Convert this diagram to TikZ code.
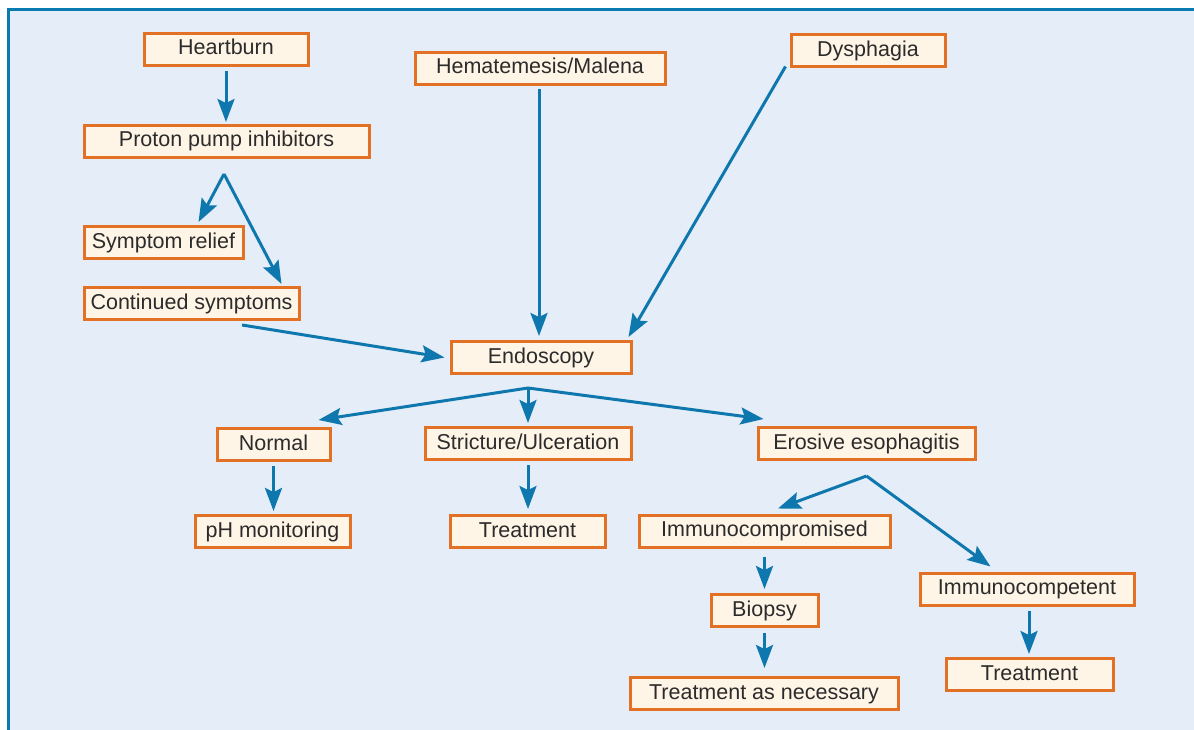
\documentclass[tikz,border=0pt]{standalone}
\usepackage{fontspec}
\setmainfont{Liberation Sans}
\usetikzlibrary{arrows.meta,calc}
\definecolor{panelbg}{HTML}{E5EEF8}
\definecolor{framebl}{HTML}{0A7BB0}
\definecolor{arrbl}{HTML}{0E78AE}
\definecolor{boxor}{HTML}{E27025}
\definecolor{boxfill}{HTML}{FFF5E7}
\definecolor{txt}{HTML}{2B2B2B}
\tikzset{
  box/.style={draw=boxor, line width=3pt, fill=boxfill, inner sep=0pt,
    minimum height=32pt, text=txt, text height=15.5pt, text depth=4.5pt,
    font=\fontsize{21.5}{25}\selectfont},
  arr/.style={draw=arrbl, line width=3pt,
    -{Stealth[length=23pt,width=17pt,inset=4pt]}},
}
\begin{document}
\begin{tikzpicture}[x=1pt,y=-1pt]
\useasboundingbox (0,0) rectangle (1194,730);
\fill[white] (0,0) rectangle (1194,730);
\fill[panelbg] (8,10) rectangle (1194,730);
\draw[framebl, line width=3pt] (8,730) -- (8,10) -- (1194,10);

\node[box, minimum width=164pt] (hb)  at (226,49.5) {Heartburn};
\node[box, minimum width=285pt] (ppi) at (226.5,141.5) {Proton pump inhibitors};
\node[box, minimum width=250pt] (hm)  at (540,68.5) {Hematemesis/Malena};
\node[box, minimum width=154pt] (dy)  at (868,51) {Dysphagia};
\node[box, minimum width=159pt] (sr)  at (163.5,242.5) {Symptom relief};
\node[box, minimum width=215pt] (cs)  at (191.5,303.5) {Continued symptoms};
\node[box, minimum width=180pt] (en)  at (541,357.5) {Endoscopy};
\node[box, minimum width=113pt] (nm)  at (273.5,444.5) {Normal};
\node[box, minimum width=206pt] (st)  at (528,443.5) {Stricture/Ulceration};
\node[box, minimum width=217pt] (er)  at (866.5,443.5) {Erosive esophagitis};
\node[box, minimum width=155pt] (ph)  at (272.5,531.5) {pH monitoring};
\node[box, minimum width=155pt] (tr1) at (527.5,531.5) {Treatment};
\node[box, minimum width=251pt] (ic)  at (764.5,531) {Immunocompromised};
\node[box, minimum width=214pt] (it)  at (1027,589) {Immunocompetent};
\node[box, minimum width=107pt] (bio) at (764.5,610.5) {Biopsy};
\node[box, minimum width=268pt] (tan) at (764,693.5) {Treatment as necessary};
\node[box, minimum width=167pt] (tr2) at (1029.5,674.5) {Treatment};

% fork apices
\coordinate (f1) at ([xshift=-2.5pt,yshift=-15pt]ppi.south);
\coordinate (f2) at ([xshift=-13pt,yshift=-13pt]en.south);
\coordinate (f3) at ([yshift=-15pt]er.south);

% connectors
\draw[arr] ([yshift=-4pt]hb.south) -- ([yshift=2pt]hb.south |- ppi.north);
\draw[arr] (f1) -- ([xshift=-46pt,yshift=3pt]sr.north east);
\draw[arr] (f1) -- ([xshift=-19pt,yshift=2pt]cs.north east);
\draw[arr] ([xshift=50.5pt,yshift=-4pt]cs.south) -- ([xshift=-5pt]en.west);
\draw[arr] ([xshift=-1pt,yshift=-3pt]hm.south) -- ([xshift=-2pt,yshift=4pt]en.north);
\draw[arr] ([xshift=-4pt,yshift=2pt]dy.south west) -- ([xshift=-4pt,yshift=3pt]en.north east);

\draw[arr] (f2) -- ([xshift=-13pt,yshift=7pt]nm.north east);
\draw[arr] (f2) -- ([yshift=3pt]st.north);
\draw[arr] (f2) -- ([xshift=7pt,yshift=7pt]er.north west);

\draw[arr] ([yshift=-4pt]nm.south) -- ([yshift=3pt]nm.south |- ph.north);
\draw[arr] ([yshift=-4pt]st.south) -- ([yshift=5pt]st.south |- tr1.north);

\draw[arr] (f3) -- ([xshift=13.5pt,yshift=5pt]ic.north);
\draw[arr] (f3) -- ([xshift=72pt,yshift=5pt]it.north west);

\draw[arr] ([yshift=-8pt]ic.south) -- ([yshift=4pt]ic.south |- bio.north);
\draw[arr] ([yshift=-5pt]bio.south) -- ([yshift=8pt]bio.south |- tan.north);
\draw[arr] ([xshift=2pt,yshift=-4pt]it.south) -- ([xshift=2pt,yshift=3pt]it.south |- tr2.north);
\end{tikzpicture}
\end{document}
